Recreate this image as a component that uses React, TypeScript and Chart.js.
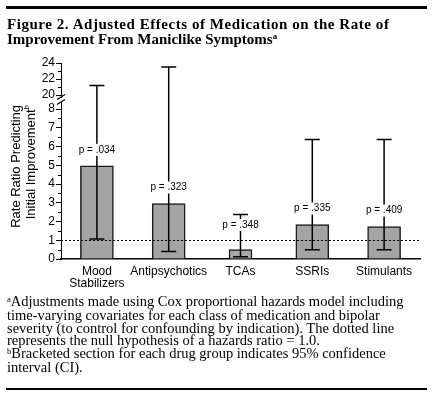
import React, { useEffect, useRef } from 'react';
import { Chart, registerables } from 'chart.js';

Chart.register(...registerables);

// ---- data ----
const categories: (string | string[])[] = [['Mood', 'Stabilizers'], 'Antipsychotics', 'TCAs', 'SSRIs', 'Stimulants'];
const rateRatios = [4.97, 2.96, 0.5, 1.84, 1.73];
const ciLower = [1.07, 0.4, 0.12, 0.5, 0.5];
const ciUpper = [21.2, 23.5, 2.37, 6.38, 6.38];
const pLabels = ['p = .034', 'p = .323', 'p = .348', 'p = .335', 'p = .409'];
const lowerTicks = [0, 1, 2, 3, 4, 5, 6, 7, 8];
const upperTicks = [20, 22, 24];
const nullRatio = 1.0;

// ---- styles ----
const narrowBars = [false, false, true, false, false];
const WIDE = 33;
const NARROW = 23;

// broken axis: 0-8 and 20-24
const LOWER_MAX = 8;
const UPPER_MIN = 20;
const UPPER_MAX = 24;
const GAP = 0.75;
const UPPER_RATE = 0.428;
const toAxis = (v: number) =>
  v <= LOWER_MAX
    ? v
    : v >= UPPER_MIN
    ? LOWER_MAX + GAP + (v - UPPER_MIN) * UPPER_RATE
    : LOWER_MAX + ((v - LOWER_MAX) / (UPPER_MIN - LOWER_MAX)) * GAP;

const allTicks = [...lowerTicks, ...upperTicks];
const SANS = '"Liberation Sans", Arial, sans-serif';

const overlayPlugin = {
  id: 'overlay',
  afterDatasetsDraw(chart: any) {
    const { ctx, chartArea, scales } = chart;
    const x = scales.x;
    const y = scales.y;
    ctx.save();
    // null-hypothesis dotted line
    const y1 = y.getPixelForValue(toAxis(nullRatio));
    ctx.strokeStyle = '#000';
    ctx.lineWidth = 1;
    ctx.setLineDash([2, 2]);
    ctx.beginPath();
    ctx.moveTo(chartArea.left, Math.round(y1) + 0.5);
    ctx.lineTo(chartArea.right, Math.round(y1) + 0.5);
    ctx.stroke();
    ctx.setLineDash([]);

    // error bars
    ctx.lineWidth = 1.5;
    const cap = 15;
    rateRatios.forEach((v, i) => {
      const cx = x.getPixelForValue(i);
      const yt = y.getPixelForValue(toAxis(ciUpper[i]));
      const yb = y.getPixelForValue(toAxis(ciLower[i]));
      ctx.beginPath();
      ctx.moveTo(cx, yt);
      ctx.lineTo(cx, yb);
      ctx.moveTo(cx - cap / 2, yt);
      ctx.lineTo(cx + cap / 2, yt);
      ctx.moveTo(cx - cap / 2, yb);
      ctx.lineTo(cx + cap / 2, yb);
      ctx.stroke();
    });

    // p labels
    ctx.font = '10px ' + SANS;
    ctx.textAlign = 'center';
    ctx.textBaseline = 'middle';
    const zero = y.getPixelForValue(0);
    rateRatios.forEach((v, i) => {
      const cx = x.getPixelForValue(i);
      const top = y.getPixelForValue(toAxis(v));
      const ly = Math.min(top - 16, zero - 34);
      const w = ctx.measureText(pLabels[i]).width;
      ctx.fillStyle = '#fff';
      ctx.fillRect(cx - w / 2 - 1, ly - 6, w + 2, 12);
      ctx.fillStyle = '#000';
      ctx.fillText(pLabels[i], cx, ly);
    });
    ctx.restore();
  },
  afterDraw(chart: any) {
    const { ctx, chartArea, scales } = chart;
    const y = scales.y;
    const ax = chartArea.left;
    ctx.save();
    ctx.strokeStyle = '#000';
    ctx.lineWidth = 1;
    // minor ticks
    const minors: number[] = [];
    for (let v = 0.5; v < LOWER_MAX; v += 1) minors.push(v);
    for (let v = UPPER_MIN + 1; v < UPPER_MAX; v += 2) minors.push(v);
    ctx.beginPath();
    minors.forEach((v) => {
      const py = Math.round(y.getPixelForValue(toAxis(v))) + 0.5;
      ctx.moveTo(ax - 3, py);
      ctx.lineTo(ax, py);
    });
    ctx.stroke();
    // axis break
    const y8 = y.getPixelForValue(toAxis(LOWER_MAX));
    const y20 = y.getPixelForValue(toAxis(UPPER_MIN));
    const mid = (y8 + y20) / 2 - 2;
    ctx.fillStyle = '#fff';
    ctx.fillRect(ax - 2, mid - 2, 4, 4);
    ctx.lineWidth = 1.2;
    ctx.beginPath();
    ctx.moveTo(ax - 4, mid - 0.5);
    ctx.lineTo(ax + 4, mid - 5.5);
    ctx.moveTo(ax - 4, mid + 4.5);
    ctx.lineTo(ax + 4, mid - 0.5);
    ctx.stroke();

    // y axis title
    ctx.fillStyle = '#000';
    ctx.textBaseline = 'middle';
    ctx.textAlign = 'left';
    const topY = 105;
    const drawRot = (cx: number, main: string, sup?: string) => {
      ctx.save();
      ctx.translate(cx, topY);
      ctx.rotate(-Math.PI / 2);
      ctx.font = '13px ' + SANS;
      const wm = ctx.measureText(main).width;
      ctx.font = '8px ' + SANS;
      const ws = sup ? ctx.measureText(sup).width : 0;
      ctx.font = '13px ' + SANS;
      ctx.fillText(main, -(wm + ws), 0);
      if (sup) {
        ctx.font = '8px ' + SANS;
        ctx.fillText(sup, -ws, -4);
      }
      ctx.restore();
    };
    drawRot(16, 'Rate Ratio Predicting');
    drawRot(31, 'Initial Improvement', 'b');
    ctx.restore();
  },
};

function ChartCanvas() {
  const ref = useRef<HTMLCanvasElement | null>(null);
  useEffect(() => {
    if (!ref.current) return;
    const chart = new Chart(ref.current, {
      type: 'bar',
      data: {
        labels: categories as any,
        datasets: [
          {
            data: rateRatios.map((v, i) => (narrowBars[i] ? null : toAxis(v))),
            backgroundColor: '#a4a4a4',
            borderColor: '#1a1a1a',
            borderWidth: 1.5,
            barThickness: WIDE,
          } as any,
          {
            data: rateRatios.map((v, i) => (narrowBars[i] ? toAxis(v) : null)),
            backgroundColor: '#a8a8a8',
            borderColor: '#1a1a1a',
            borderWidth: 1.5,
            barThickness: NARROW,
          } as any,
        ],
      },
      options: {
        responsive: false,
        animation: false,
        devicePixelRatio: 1,
        layout: { padding: { left: 0, right: 12, top: 63, bottom: 108 } },
        plugins: { legend: { display: false }, tooltip: { enabled: false }, title: { display: false } },
        scales: {
          x: {
            stacked: true,
            grid: { display: true, drawOnChartArea: false, drawTicks: false },
            border: { display: true, color: '#000', width: 1.5 },
            ticks: { color: '#000', font: { family: SANS, size: 12, lineHeight: 1.0 }, padding: 7, maxRotation: 0, autoSkip: false },
            afterFit: (s: any) => { s.height = 32; },
          },
          y: {
            min: 0,
            max: toAxis(UPPER_MAX),
            grid: { display: true, drawOnChartArea: false, drawTicks: true, tickLength: 5, color: '#000', lineWidth: 1 },
            border: { display: true, color: '#000', width: 1 },
            ticks: {
              color: '#000',
              font: { family: SANS, size: 12 },
              padding: 1,
              callback: (_v: any, i: number) => String(allTicks[i]),
            },
            afterBuildTicks: (s: any) => {
              s.ticks = allTicks.map((v) => ({ value: toAxis(v) }));
            },
            afterFit: (s: any) => { s.width = 61; },
          },
        },
      },
      plugins: [overlayPlugin],
    } as any);
    return () => chart.destroy();
  }, []);
  return <canvas ref={ref} width={432} height={399} style={{ position: 'absolute', left: 0, top: 0, width: 432, height: 399 }} />;
}

const supStyle: React.CSSProperties = { fontSize: '0.6em', position: 'relative', top: '-0.45em' };
const SERIF = '"Liberation Serif", "Times New Roman", serif';

export default function App() {
  return (
    <div style={{ position: 'absolute', left: 0, top: 0, width: 432, height: 399, background: '#fff', overflow: 'hidden' }}>
      <ChartCanvas />
      <div style={{ position: 'absolute', left: 6, top: 6, width: 421, height: 3, background: '#000' }} />
      <div style={{ position: 'absolute', left: 7, top: 17, fontFamily: SERIF, fontWeight: 'bold', fontSize: 15, lineHeight: '14.5px', whiteSpace: 'pre', color: '#000' }}>
        <div style={{ letterSpacing: '0.55px' }}>Figure 2. Adjusted Effects of Medication on the Rate of</div>
        <div>Improvement From Maniclike Symptoms<span style={supStyle}>a</span></div>
      </div>
      <div style={{ position: 'absolute', left: 7, top: 295, fontFamily: SERIF, fontSize: 14.5, lineHeight: '12.4px', whiteSpace: 'pre', color: '#000' }}>
        <div><span style={supStyle}>a</span>Adjustments made using Cox proportional hazards model including</div>
        <div>time-varying covariates for each class of medication and bipolar</div>
        <div>severity (to control for confounding by indication). The dotted line</div>
        <div>represents the null hypothesis of a hazards ratio = 1.0.</div>
        <div><span style={supStyle}>b</span>Bracketed section for each drug group indicates 95% confidence</div>
        <div>interval (CI).</div>
      </div>
      <div style={{ position: 'absolute', left: 6, top: 388, width: 421, height: 2, background: '#000' }} />
    </div>
  );
}
